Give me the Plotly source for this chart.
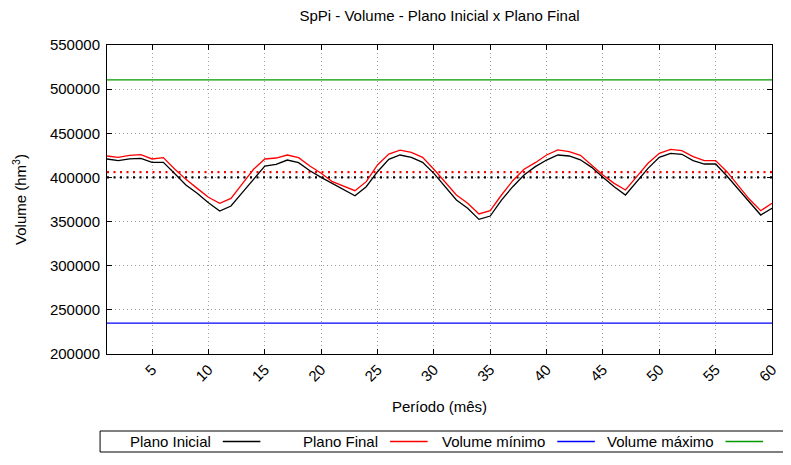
import plotly.graph_objects as go

periodo = list(range(1, 61))

plano_inicial = [
    420900, 419000, 421000, 421600, 417100, 417100, 404500, 391400, 382000, 371400,
    362000, 367600, 382700, 397800, 412900, 414800, 419700, 416700, 407600, 400100,
    393300, 387000, 379300, 389500, 406500, 420500, 425400, 422800, 417100, 404600,
    389500, 374400, 365000, 352500, 356300, 374400, 389500, 402700, 412200, 419700,
    425400, 424300, 420000, 411400, 400100, 389500, 380100, 395200, 410300, 422800,
    427300, 426200, 419000, 415200, 415200, 401600, 386500, 371400, 357400, 365000,
]

plano_final = [
    424300, 422800, 425000, 425800, 420900, 422400, 409500, 397800, 387600, 377500,
    370700, 376300, 392600, 409200, 420900, 422000, 425400, 422400, 412900, 404700,
    395200, 390000, 385000, 395200, 414100, 426500, 431000, 428400, 422800, 409200,
    395200, 380100, 370700, 358600, 362300, 380100, 396300, 409200, 416700, 425400,
    431100, 429200, 425000, 414100, 402700, 393300, 385800, 400900, 416000, 427300,
    431800, 430300, 423500, 419000, 419000, 406500, 391400, 375200, 362300, 370700,
]

volume_minimo = 235000
volume_maximo = 510500
meta_inicial = 400000
meta_final = 406000

x_ticks = list(range(5, 61, 5))
y_ticks = list(range(200000, 550001, 50000))

legend_names = ["Plano Inicial", "Plano Final", "Volume mínimo", "Volume máximo"]
legend_colors = ["#000000", "#ff0000", "#0000ff", "#009900"]

FONT = "Liberation Sans, Arial, Helvetica, sans-serif"
FS = 15

fig = go.Figure()

n = len(periodo)
fig.add_trace(go.Scatter(x=periodo, y=[meta_inicial] * n, mode="lines",
                         line=dict(color="#000000", width=2.2, dash="2px,4.5px"),
                         showlegend=False, hoverinfo="skip"))
fig.add_trace(go.Scatter(x=periodo, y=[meta_final] * n, mode="lines",
                         line=dict(color="#ff0000", width=2.2, dash="2px,4.5px"),
                         showlegend=False, hoverinfo="skip"))
fig.add_trace(go.Scatter(x=periodo, y=plano_inicial, mode="lines", name=legend_names[0],
                         line=dict(color=legend_colors[0], width=1.3), showlegend=False))
fig.add_trace(go.Scatter(x=periodo, y=plano_final, mode="lines", name=legend_names[1],
                         line=dict(color=legend_colors[1], width=1.3), showlegend=False))
fig.add_trace(go.Scatter(x=periodo, y=[volume_minimo] * n, mode="lines", name=legend_names[2],
                         line=dict(color=legend_colors[2], width=1.3), showlegend=False))
fig.add_trace(go.Scatter(x=periodo, y=[volume_maximo] * n, mode="lines", name=legend_names[3],
                         line=dict(color=legend_colors[3], width=1.3), showlegend=False))

# page has an 8px body margin; figure sized to fit the 791x465 window
OFF = 8
W, H = 791 - OFF, 465 - OFF
# plot area in page pixels: x 104..776, y 45..354
L, T = 104 - OFF, 45 - OFF
pw, ph = 776 - 104, 354 - 45
R, B = W - L - pw, H - T - ph

def px_x(p):
    return (p - OFF - L) / pw

def px_y(p):
    return (T + ph - (p - OFF)) / ph

shapes = []
annotations = []
shapes.append(dict(type="rect", xref="paper", yref="paper",
                   x0=px_x(97), x1=px_x(789), y0=px_y(452), y1=px_y(431),
                   line=dict(color="black", width=1), fillcolor="rgba(0,0,0,0)"))
text_ends = [211, 380, 549, 719]
for name, col, xe in zip(legend_names, legend_colors, text_ends):
    shapes.append(dict(type="line", xref="paper", yref="paper",
                       x0=px_x(xe + 10), x1=px_x(xe + 48), y0=px_y(441.5), y1=px_y(441.5),
                       line=dict(color=col, width=1.3)))
    annotations.append(dict(text=name, xref="paper", yref="paper",
                            x=px_x(xe), y=px_y(441.5), xanchor="right", yanchor="middle",
                            showarrow=False, font=dict(size=FS, color="black", family=FONT)))

fig.update_layout(
    width=W, height=H,
    margin=dict(l=L, r=R, t=T, b=B),
    paper_bgcolor="white", plot_bgcolor="white",
    font=dict(family=FONT, size=FS, color="black"),
    title=dict(text="SpPi - Volume - Plano Inicial x Plano Final", xref="paper", x=0.5,
               xanchor="center", y=1 - (15.5 - OFF) / H, yanchor="middle",
               font=dict(size=FS, family=FONT)),
    shapes=shapes, annotations=annotations,
    showlegend=False,
)

fig.update_xaxes(
    range=[1, 60], tickvals=x_ticks, ticktext=[str(v) for v in x_ticks],
    tickangle=-45, ticks="inside", ticklen=5, tickcolor="black",
    showline=True, linecolor="black", linewidth=1, mirror="ticks",
    showgrid=True, gridcolor="#a0a0a0", gridwidth=1, griddash="1px,3px",
    zeroline=False,
    title=dict(text="Período (mês)", standoff=17, font=dict(size=FS, family=FONT)),
    tickfont=dict(size=FS, family=FONT),
)
fig.update_yaxes(
    range=[200000, 550000], tickvals=y_ticks, ticktext=[str(v) for v in y_ticks],
    ticks="inside", ticklen=5, tickcolor="black", ticklabelstandoff=3,
    showline=True, linecolor="black", linewidth=1, mirror="ticks",
    showgrid=True, gridcolor="#a0a0a0", gridwidth=1, griddash="1px,3px",
    zeroline=False,
    title=dict(text="Volume (hm<sup>3</sup>)", standoff=19, font=dict(size=FS, family=FONT)),
    tickfont=dict(size=FS, family=FONT),
)

fig.write_html("out.html")
